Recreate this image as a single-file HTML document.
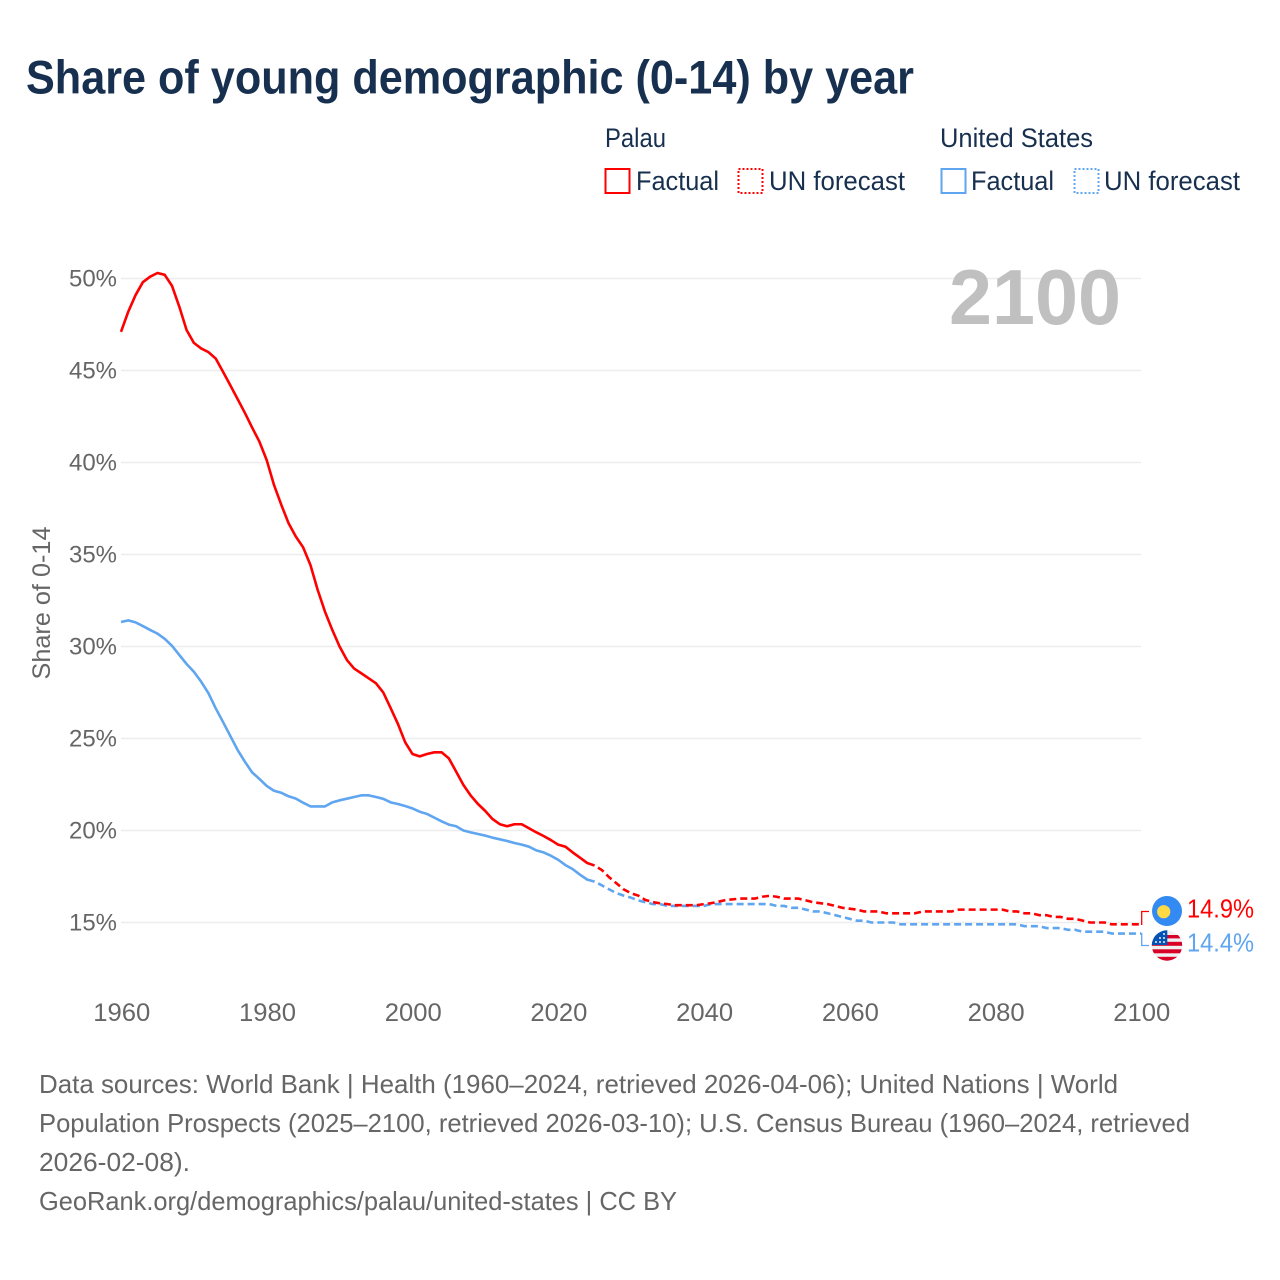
<!DOCTYPE html>
<html lang="en">
<head>
<meta charset="utf-8">
<title>Share of young demographic (0-14) by year</title>
<style>
html,body{margin:0;padding:0;background:#fff;width:1280px;height:1280px;overflow:hidden}
svg{display:block;font-family:"Liberation Sans",sans-serif}
</style>
</head>
<body>
<svg id="chart" xmlns="http://www.w3.org/2000/svg" width="1280" height="1280" viewBox="0 0 1280 1280">
  <defs>
    <clipPath id="palau-clip"><circle cx="1167" cy="911" r="15"/></clipPath>
    <clipPath id="us-clip"><circle cx="1167" cy="945.5" r="15.2"/></clipPath>
  </defs>
  <rect width="1280" height="1280" fill="#fff"/>
  <text x="26" y="93.5" font-size="47" font-weight="700" fill="#18304f" textLength="888" lengthAdjust="spacingAndGlyphs">Share of young demographic (0-14) by year</text>

  <g font-size="27" fill="#18304f">
    <text x="605" y="147" textLength="61" lengthAdjust="spacingAndGlyphs">Palau</text>
    <text x="940" y="147" textLength="153" lengthAdjust="spacingAndGlyphs">United States</text>
    <g>
      <rect x="605.5" y="169" width="24" height="24" fill="none" stroke="#ff0000" stroke-width="2"/>
      <text x="636" y="190" textLength="83" lengthAdjust="spacingAndGlyphs">Factual</text>
    </g>
    <g>
      <rect x="738.5" y="169" width="24" height="24" fill="none" stroke="#ff0000" stroke-width="2" stroke-dasharray="2 2"/>
      <text x="769" y="190" textLength="136" lengthAdjust="spacingAndGlyphs">UN forecast</text>
    </g>
    <g>
      <rect x="941.5" y="169" width="24" height="24" fill="none" stroke="#5fa5ef" stroke-width="2"/>
      <text x="971" y="190" textLength="83" lengthAdjust="spacingAndGlyphs">Factual</text>
    </g>
    <g>
      <rect x="1074.5" y="169" width="24" height="24" fill="none" stroke="#5fa5ef" stroke-width="2" stroke-dasharray="2 2"/>
      <text x="1104" y="190" textLength="136" lengthAdjust="spacingAndGlyphs">UN forecast</text>
    </g>
  </g>

  <text transform="translate(50,603) rotate(-90)" text-anchor="middle" font-size="25" fill="#666" textLength="153" lengthAdjust="spacingAndGlyphs">Share of 0-14</text>

  <g id="gridlines"></g>
  <g id="y-ticks"></g>
  <g id="x-ticks"></g>

  <text x="949" y="324" font-size="78" font-weight="700" fill="#c0c0c0" textLength="172" lengthAdjust="spacingAndGlyphs">2100</text>

  <g id="series"></g>
  <g id="end-labels"></g>

  <g clip-path="url(#palau-clip)">
    <rect x="1152" y="896" width="30" height="30" fill="#338af3"/>
    <circle cx="1163.7" cy="911.7" r="6.6" fill="#ffda44"/>
  </g>
  <g clip-path="url(#us-clip)">
    <rect x="1151" y="930" width="32" height="32" fill="#f0f0f0"/>
    <rect x="1151" y="935" width="32" height="3.4" fill="#d80027"/>
    <rect x="1151" y="941.8" width="32" height="4" fill="#d80027"/>
    <rect x="1151" y="949.3" width="32" height="4" fill="#d80027"/>
    <rect x="1151" y="956.8" width="32" height="5" fill="#d80027"/>
    <rect x="1151" y="930" width="16.3" height="15" fill="#0052b4"/>
    <g fill="#f0f0f0">
      <circle cx="1156" cy="942" r="1"/><circle cx="1160" cy="942" r="1"/><circle cx="1164" cy="942" r="1"/>
      <circle cx="1160" cy="938" r="1"/><circle cx="1164" cy="938" r="1"/><circle cx="1164" cy="934" r="1"/>
    </g>
  </g>

  <g font-size="26" fill="#666">
    <text x="39" y="1093" textLength="1079" lengthAdjust="spacingAndGlyphs">Data sources: World Bank | Health (1960–2024, retrieved 2026-04-06); United Nations | World</text>
    <text x="39" y="1132" textLength="1151" lengthAdjust="spacingAndGlyphs">Population Prospects (2025–2100, retrieved 2026-03-10); U.S. Census Bureau (1960–2024, retrieved</text>
    <text x="39" y="1171" textLength="151" lengthAdjust="spacingAndGlyphs">2026-02-08).</text>
    <text x="39" y="1210" textLength="638" lengthAdjust="spacingAndGlyphs">GeoRank.org/demographics/palau/united-states | CC BY</text>
  </g>
</svg>

<script>
const yTickValues = [15, 20, 25, 30, 35, 40, 45, 50];
const xTickYears = [1960, 1980, 2000, 2020, 2040, 2060, 2080, 2100];
const factualStartYear = 1960;
const forecastStartYear = 2025;

const palauFactual = [
  47.1, 48.2, 49.1, 49.8, 50.1, 50.3, 50.2, 49.6, 48.47, 47.2,
  46.5, 46.2, 46.0, 45.65, 44.93, 44.2, 43.45, 42.7, 41.9, 41.13,
  40.13, 38.78, 37.7, 36.7, 35.97, 35.39, 34.43, 33.07, 31.89, 30.9,
  30.0, 29.27, 28.8, 28.54, 28.27, 28.0, 27.5, 26.66, 25.8, 24.8,
  24.16, 24.03, 24.16, 24.25, 24.25, 23.92, 23.2, 22.47, 21.9, 21.44,
  21.06, 20.62, 20.34, 20.23, 20.34, 20.34, 20.12, 19.9, 19.7, 19.48,
  19.23, 19.12, 18.81, 18.52, 18.23, 18.1
];
const palauForecast = [
  18.1, 17.85, 17.46, 17.13, 16.8,
  16.59, 16.46, 16.22, 16.11, 16.04, 16.0, 15.94, 15.94, 15.94, 15.94,
  16.0, 16.05, 16.13, 16.22, 16.26, 16.3, 16.3, 16.3, 16.4, 16.45,
  16.4, 16.3, 16.3, 16.3, 16.2, 16.1, 16.05, 16.0, 15.9, 15.8,
  15.75, 15.7, 15.6, 15.6, 15.6, 15.5, 15.5, 15.5, 15.5, 15.5,
  15.6, 15.6, 15.6, 15.6, 15.6, 15.7, 15.7, 15.7, 15.7, 15.7,
  15.7, 15.7, 15.6, 15.6, 15.5, 15.5, 15.4, 15.4, 15.3, 15.3,
  15.2, 15.2, 15.1, 15.0, 15.0, 15.0, 14.9, 14.9, 14.9, 14.9,
  14.9
];
const usFactual = [
  31.33, 31.42, 31.31, 31.11, 30.9, 30.7, 30.42, 30.04, 29.54, 29.05,
  28.63, 28.09, 27.46, 26.64, 25.9, 25.14, 24.38, 23.74, 23.16, 22.8,
  22.42, 22.16, 22.05, 21.86, 21.73, 21.51, 21.31, 21.31, 21.31, 21.53,
  21.64, 21.73, 21.82, 21.91, 21.91, 21.82, 21.72, 21.53, 21.44, 21.33,
  21.2, 21.02, 20.9, 20.7, 20.5, 20.32, 20.23, 20.0, 19.9, 19.81,
  19.72, 19.61, 19.52, 19.43, 19.32, 19.23, 19.12, 18.92, 18.81, 18.63,
  18.41, 18.12, 17.9, 17.6, 17.33, 17.22
];
const usForecast = [
  17.22, 17.02, 16.8, 16.6, 16.46,
  16.35, 16.2, 16.1, 16.0, 16.0, 15.9, 15.9, 15.9, 15.9, 15.9,
  15.9, 16.0, 16.0, 16.0, 16.0, 16.0, 16.0, 16.0, 16.0, 16.0,
  15.9, 15.9, 15.8, 15.8, 15.7, 15.6, 15.6, 15.5, 15.4, 15.3,
  15.2, 15.1, 15.1, 15.0, 15.0, 15.0, 15.0, 14.9, 14.9, 14.9,
  14.9, 14.9, 14.9, 14.9, 14.9, 14.9, 14.9, 14.9, 14.9, 14.9,
  14.9, 14.9, 14.9, 14.9, 14.8, 14.8, 14.8, 14.7, 14.7, 14.7,
  14.6, 14.6, 14.5, 14.5, 14.5, 14.5, 14.4, 14.4, 14.4, 14.4,
  14.4
];

const NS = 'http://www.w3.org/2000/svg';
function xScale(year) { return 121 + (year - 1960) * (1020 / 140); }
function yScale(value) { return 922.5 - (value - 15) * 18.4; }

function make(tag, parentId) {
  const el = document.createElementNS(NS, tag);
  document.getElementById(parentId).appendChild(el);
  return el;
}

yTickValues.forEach(function (v) {
  const line = make('line', 'gridlines');
  
  
  line.setAttribute('x1', xScale(1960));
  line.setAttribute('x2', xScale(2100));
  line.setAttribute('y1', yScale(v));
  line.setAttribute('y2', yScale(v));
  line.setAttribute('stroke', '#ededed');
  line.setAttribute('stroke-width', '1.5');

  const label = make('text', 'y-ticks');
  
  
  label.setAttribute('x', 117);
  label.setAttribute('y', yScale(v) + 8);
  label.setAttribute('text-anchor', 'end');
  label.setAttribute('font-size', '24.5');
  label.setAttribute('fill', '#666');
  label.setAttribute('textLength', '48');
  label.setAttribute('lengthAdjust', 'spacingAndGlyphs');
  label.textContent = v + '%';
});

xTickYears.forEach(function (yr) {
  const label = make('text', 'x-ticks');
  
  
  label.setAttribute('x', xScale(yr) + 0.8);
  label.setAttribute('y', 1021);
  label.setAttribute('text-anchor', 'middle');
  label.setAttribute('font-size', '25');
  label.setAttribute('fill', '#666');
  label.setAttribute('textLength', '57');
  label.setAttribute('lengthAdjust', 'spacingAndGlyphs');
  label.textContent = yr;
});

function pathFor(values, startYear) {
  return values.map(function (v, i) {
    return (i ? 'L' : 'M') + xScale(startYear + i).toFixed(2) + ' ' + yScale(v).toFixed(2);
  }).join(' ');
}

function drawLine(values, startYear, color, dashed, name) {
  const p = make('path', 'series');
  
  
  p.setAttribute('d', pathFor(values, startYear));
  p.setAttribute('fill', 'none');
  p.setAttribute('stroke', color);
  p.setAttribute('stroke-width', '2.6');
  p.setAttribute('stroke-linejoin', 'round');
  if (dashed) {
    p.setAttribute('stroke-dasharray', '7 4');
    p.setAttribute('stroke-dashoffset', '7');
  }
}

drawLine(usFactual, factualStartYear, '#5fa5ef', false, 'line-us-factual');
drawLine(usForecast, forecastStartYear, '#5fa5ef', true, 'line-us-forecast');
drawLine(palauFactual, factualStartYear, '#ff0000', false, 'line-palau-factual');
drawLine(palauForecast, forecastStartYear, '#ff0000', true, 'line-palau-forecast');

function drawEnd(values, color, labelY, connectorY, name) {
  const last = values[values.length - 1];
  const c = make('path', 'end-labels');
  
  
  c.setAttribute('d', 'M' + xScale(2100) + ' ' + yScale(last).toFixed(2) + ' H1141.7 V' + connectorY + ' H1149');
  c.setAttribute('fill', 'none');
  c.setAttribute('stroke', color);
  c.setAttribute('stroke-width', '1.3');

  const t = make('text', 'end-labels');
  
  
  t.setAttribute('x', 1187);
  t.setAttribute('y', labelY);
  t.setAttribute('font-size', '25.5');
  t.setAttribute('fill', color);
  t.setAttribute('textLength', '67');
  t.setAttribute('lengthAdjust', 'spacingAndGlyphs');
  t.textContent = last.toFixed(1) + '%';
}

drawEnd(palauForecast, '#ff0000', 917.5, 911.5, 'palau');
drawEnd(usForecast, '#5fa5ef', 951.5, 945.5, 'us');
</script>
</body>
</html>
